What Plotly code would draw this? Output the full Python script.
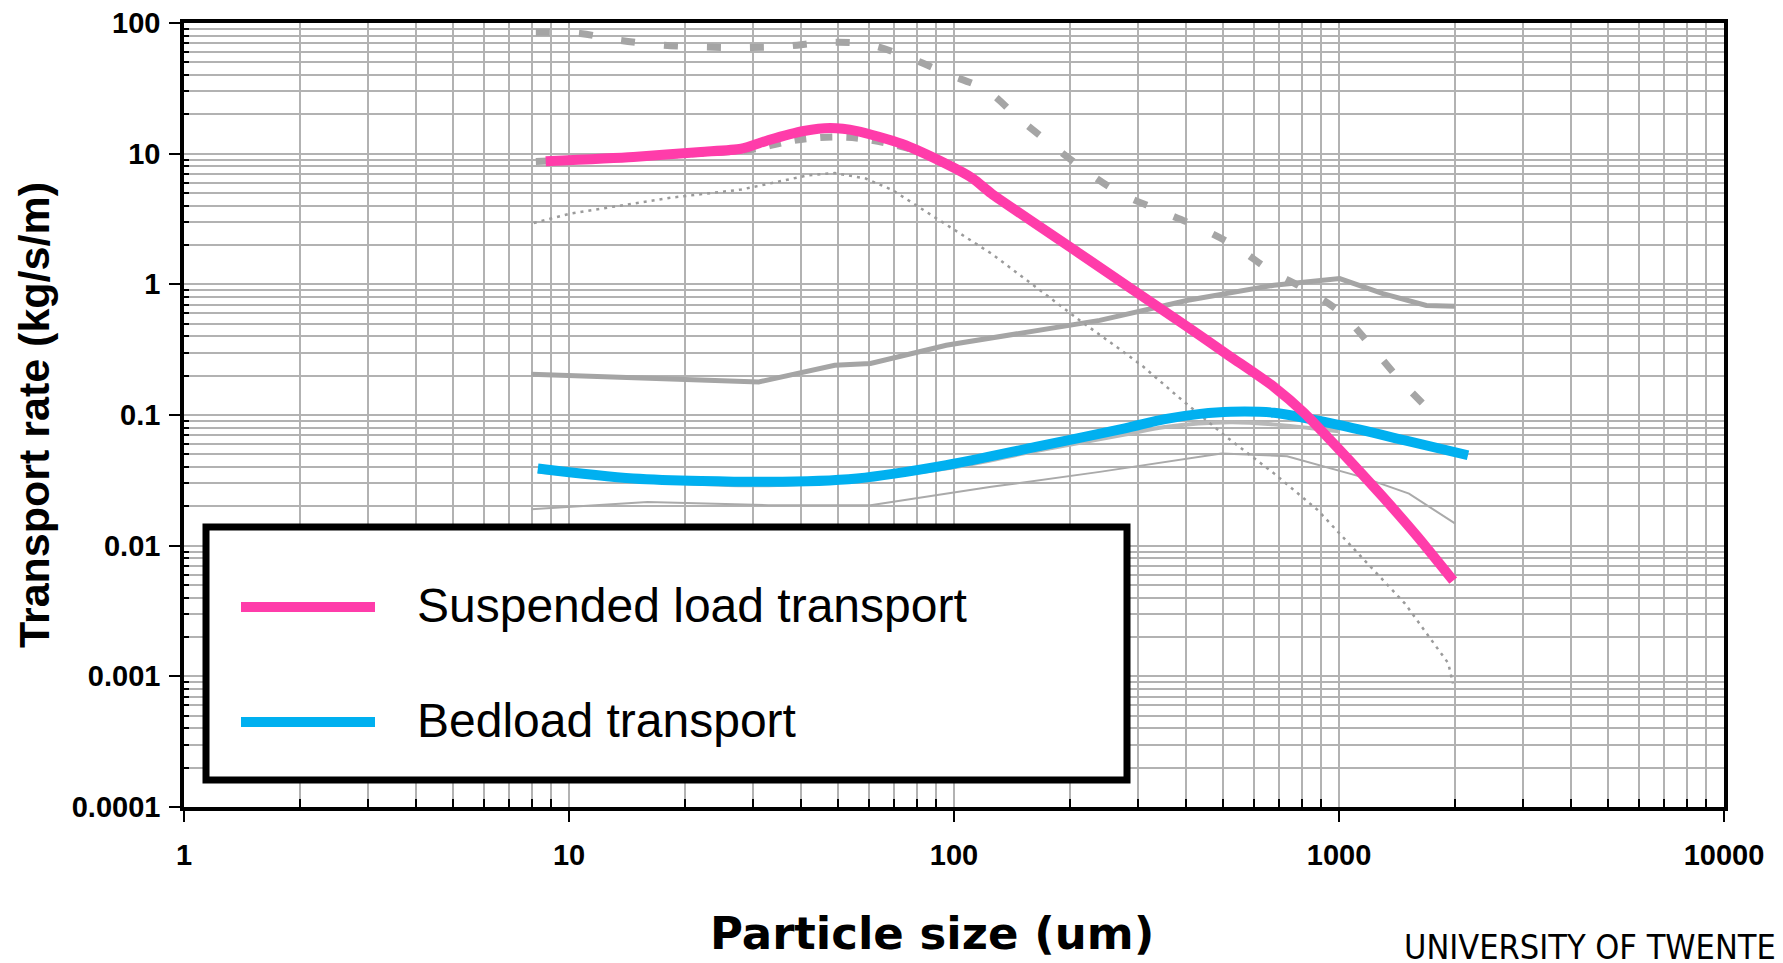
import plotly.graph_objects as go

# ---------------- data ----------------
susp_x = [8.7, 14.7, 22, 28, 33, 40.7, 47.7, 56, 73, 95, 112, 125, 212, 404, 523, 678, 814, 1004, 1300, 1600, 1980]
susp_y = [8.75, 9.44, 10.3, 10.9, 12.7, 14.9, 15.7, 14.9, 11.9, 8.4, 6.45, 4.96, 1.72, 0.472, 0.279, 0.164, 0.103, 0.054, 0.0236, 0.0117, 0.0054]

bed_x = [8.3, 14.7, 33, 56, 95.5, 163, 278, 353, 436, 523, 678, 1004, 1484, 2163]
bed_y = [0.039, 0.0327, 0.0308, 0.0327, 0.0413, 0.057, 0.079, 0.093, 0.102, 0.106, 0.104, 0.0836, 0.064, 0.0492]

# background grey curves of the original figure
gdash_x = [8.2, 10.7, 13.4, 17.3, 22.3, 28.6, 36.4, 46.7, 59.9, 76.2, 95.5, 121.5, 146.5, 180, 222, 271, 340, 430, 537, 662, 826, 1017, 1206, 1429, 1714, 1850]
gdash_y = [85, 83, 74, 68, 65.5, 65, 66.4, 71, 68.4, 54.4, 41, 30.5, 18.9, 11.6, 7.25, 4.96, 3.7, 2.75, 1.96, 1.28, 0.90, 0.597, 0.342, 0.19, 0.109, 0.085]

gsusp_x = [8.2, 20, 30, 36.6, 42.3, 50.3, 60, 80, 100]
gsusp_y = [8.7, 9.9, 10.8, 12.3, 13.1, 13.4, 12.8, 10.5, 8.0]

gdot_x = [8.1, 10.1, 12.9, 18.5, 28, 41.8, 49, 59, 69.3, 83.6, 98, 125, 163, 212, 258, 311, 383, 510, 679, 881, 1143, 1484, 1922, 1977]
gdot_y = [2.95, 3.48, 3.91, 4.61, 5.31, 6.83, 7.11, 6.45, 5.25, 3.69, 2.75, 1.72, 0.955, 0.53, 0.35, 0.233, 0.137, 0.068, 0.0356, 0.0187, 0.0082, 0.0036, 0.00126, 0.00088]

gthick_x = [7.98, 20.3, 31.1, 49, 60.7, 95.5, 163, 239, 405, 678, 1004, 1300, 1686, 2000]
gthick_y = [0.205, 0.1845, 0.179, 0.24, 0.248, 0.342, 0.446, 0.53, 0.755, 0.985, 1.107, 0.85, 0.69, 0.68]

gthin_x = [7.98, 16, 32.9, 60.7, 125, 239, 495, 733, 1143, 1520, 2000]
gthin_y = [0.019, 0.0216, 0.0204, 0.0204, 0.0282, 0.0367, 0.0507, 0.0484, 0.0336, 0.025, 0.0148]

gbed_x = [8.3, 33, 95.5, 163, 278, 353, 523, 700, 1000]
gbed_y = [0.037, 0.029, 0.039, 0.053, 0.071, 0.081, 0.088, 0.084, 0.075]

x_tickvals = [1, 10, 100, 1000, 10000]
x_ticktext = ["1", "10", "100", "1000", "10000"]
y_tickvals = [0.0001, 0.001, 0.01, 0.1, 1, 10, 100]
y_ticktext = ["0.0001", "0.001", "0.01", "0.1", "1", "10", "100"]

series_names = ["Suspended load transport", "Bedload transport"]
PINK = "#FF3CAA"
BLUE = "#00B0F0"

# ---------------- figure ----------------
fig = go.Figure()

def grey(x, y, width, color, dash="solid", shape="linear"):
    fig.add_trace(go.Scatter(x=x, y=y, mode="lines", showlegend=False, hoverinfo="skip",
                             line=dict(color=color, width=width, dash=dash, shape=shape)))

grey(gthin_x, gthin_y, 2, "rgb(170,170,170)")
grey(gbed_x, gbed_y, 4, "rgb(185,185,185)", shape="spline")
grey(gthick_x, gthick_y, 5, "rgb(165,165,165)")
grey(gdot_x, gdot_y, 2.5, "rgb(155,155,155)", dash="3px,5px")
grey(gsusp_x, gsusp_y, 7, "rgb(165,165,165)", dash="12px,14px", shape="spline")
grey(gdash_x, gdash_y, 7, "rgb(165,165,165)", dash="14px,29px", shape="spline")

fig.add_trace(go.Scatter(x=bed_x, y=bed_y, mode="lines", name=series_names[1], showlegend=False,
                         line=dict(color=BLUE, width=10, shape="spline", smoothing=0.8)))
fig.add_trace(go.Scatter(x=susp_x, y=susp_y, mode="lines", name=series_names[0], showlegend=False,
                         line=dict(color=PINK, width=10, shape="spline", smoothing=0.6)))

W, H = 1783, 963
L, R, T, B = 184, 59, 23, 156
PW, PH = W - L - R, H - T - B

def px(X):  # pixel -> paper x
    return (X - L) / PW

def py(Y):  # pixel -> paper y
    return (H - B - Y) / PH

minor_vals = [m * 10 ** k for k in range(-4, 4) for m in range(2, 10)]
grid_col = "rgb(178,178,178)"
tickfont = dict(family="Liberation Sans, Arial, sans-serif", size=29, color="black", weight="bold")

fig.update_xaxes(type="log", range=[0, 4], tickvals=x_tickvals, ticktext=x_ticktext,
                 ticks="outside", ticklen=11, tickwidth=2, tickcolor="black",
                 showline=True, linecolor="black", linewidth=3.5, mirror=True,
                 showgrid=True, gridcolor=grid_col, gridwidth=2,
                 tickfont=tickfont, ticklabelstandoff=8, zeroline=False,
                 minor=dict(tickvals=minor_vals, ticks="inside", ticklen=8, tickwidth=1.5,
                            tickcolor="black", showgrid=True, gridcolor=grid_col, gridwidth=1.6))
fig.update_yaxes(type="log", range=[-4, 2], tickvals=y_tickvals, ticktext=y_ticktext,
                 ticks="outside", ticklen=11, tickwidth=2, tickcolor="black",
                 showline=True, linecolor="black", linewidth=3.5, mirror=True,
                 showgrid=True, gridcolor=grid_col, gridwidth=2,
                 tickfont=tickfont, ticklabelstandoff=3, zeroline=False,
                 minor=dict(tickvals=minor_vals, ticks="inside", ticklen=5, tickwidth=1.5,
                            tickcolor="black", showgrid=True, gridcolor=grid_col, gridwidth=1.6))

# legend drawn as box + sample lines + labels
shapes = [
    dict(type="rect", xref="paper", yref="paper", x0=px(206), x1=px(1127), y0=py(780), y1=py(527),
         fillcolor="white", line=dict(color="black", width=7), layer="above"),
    dict(type="line", xref="paper", yref="paper", x0=px(241), x1=px(375), y0=py(607), y1=py(607),
         line=dict(color=PINK, width=10), layer="above"),
    dict(type="line", xref="paper", yref="paper", x0=px(241), x1=px(375), y0=py(722), y1=py(722),
         line=dict(color=BLUE, width=10), layer="above"),
]
legfont = dict(family="Liberation Sans, Arial, sans-serif", size=48, color="black")
annotations = [
    dict(text=series_names[0], xref="paper", yref="paper", x=px(415), y=py(605), xanchor="left",
         yanchor="middle", showarrow=False, font=legfont),
    dict(text=series_names[1], xref="paper", yref="paper", x=px(415), y=py(720), xanchor="left",
         yanchor="middle", showarrow=False, font=legfont),
    dict(text="Particle size (um)", xref="paper", yref="paper", x=px(932), y=py(933), xanchor="center",
         yanchor="middle", showarrow=False,
         font=dict(family="DejaVu Sans, sans-serif", size=45, color="black", weight="bold")),
    dict(text="Transport rate (kg/s/m)", xref="paper", yref="paper", x=px(34), y=py(415), xanchor="center",
         yanchor="middle", textangle=-90, showarrow=False,
         font=dict(family="Liberation Sans, Arial, sans-serif", size=43, color="black", weight="bold")),
    dict(text="UNIVERSITY OF TWENTE", xref="paper", yref="paper", x=px(1778), y=py(925), xanchor="right",
         yanchor="top", showarrow=False,
         font=dict(family="DejaVu Sans Condensed, Roboto Condensed, sans-serif",
                   size=34, color="black")),
]

fig.update_layout(width=W, height=H, margin=dict(l=L, r=R, t=T, b=B, autoexpand=False),
                  paper_bgcolor="white", plot_bgcolor="white", showlegend=False,
                  shapes=shapes, annotations=annotations)

fig.write_html("out.html")
